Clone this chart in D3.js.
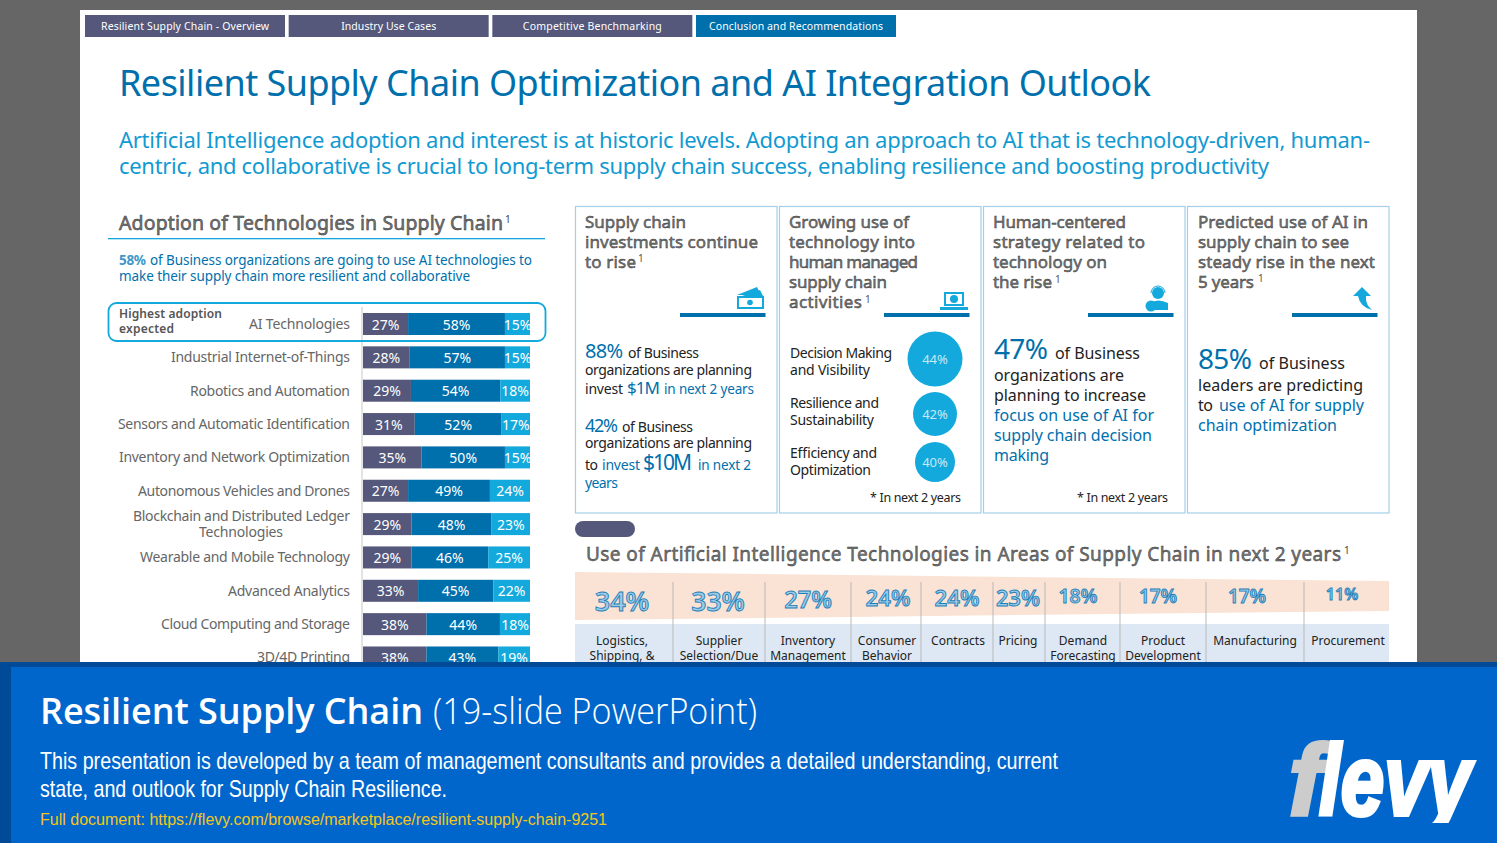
<!DOCTYPE html>
<html><head><meta charset="utf-8">
<script src="https://cdn.jsdelivr.net/npm/d3@7"></script>
<style>html,body{margin:0;padding:0;background:#666;overflow:hidden}svg{display:block}text{font-family:"Noto Sans",sans-serif}</style>
</head><body><svg id="c" width="1497" height="843"></svg>
<script>
const tabNames=["Resilient Supply Chain - Overview","Industry Use Cases","Competitive Benchmarking","Conclusion and Recommendations"];
const techCategories=["AI Technologies","Industrial Internet-of-Things","Robotics and Automation","Sensors and Automatic Identification","Inventory and Network Optimization","Autonomous Vehicles and Drones",["Blockchain and Distributed Ledger","Technologies"],"Wearable and Mobile Technology","Advanced Analytics","Cloud Computing and Storage","3D/4D Printing"];
const adoptionLow=[27,28,29,31,35,27,29,29,33,38,38];
const adoptionMid=[58,57,54,52,50,49,48,46,45,44,43];
const adoptionHigh=[15,15,18,17,15,24,23,25,22,18,19];
const bubbleLabels=[["Decision Making","and Visibility"],["Resilience and","Sustainability"],["Efficiency and","Optimization"]];
const bubbleValues=[44,42,40];
const areaLabels=[["Logistics,","Shipping, &"],["Supplier","Selection/Due"],["Inventory","Management"],["Consumer","Behavior"],["Contracts"],["Pricing"],["Demand","Forecasting"],["Product","Development"],["Manufacturing"],["Procurement"]];
const areaValues=[34,33,27,24,24,23,18,17,17,11];

const svg=d3.select("#c");
const NAVY="#55587a",BLUE="#0070ad",CYAN="#14a9dc",GREY="#666",INK="#222";
function T(x,y,s,o={}){
  const t=svg.append("text").attr("x",x).attr("y",y).text(s)
   .attr("font-size",o.size||14).attr("fill",o.fill||INK).attr("text-anchor",o.anchor||"start");
  if(o.weight)t.attr("font-weight",o.weight);
  if(o.family)t.style("font-family",o.family);
  if(o.len){t.attr("textLength",o.len).attr("lengthAdjust",o.adjust||"spacing");}
  if(o.stroke)t.attr("stroke",o.stroke).attr("stroke-width",o.sw||.4);
  return t;
}
function R(x,y,w,h,f,o={}){return svg.append("rect").attr("x",x).attr("y",y).attr("width",w).attr("height",h).attr("fill",f).attr("rx",o.rx||0)}

// slide
R(80,10,1337,660,"#fff");
// tabs
const tabX=d3.scalePoint().domain(tabNames).range([85,696]);
tabNames.forEach((n,i)=>{
  const x=tabX(n),c=i==3?BLUE:NAVY;
  R(x,15,200,22,c);
  T(x+100,30,n,{size:10.5,fill:"#fff",anchor:"middle",len:[168,95,139,174][i]});
});
T(119,96,"Resilient Supply Chain Optimization and AI Integration Outlook",{size:36,fill:BLUE,len:1032});
T(119,148,"Artificial Intelligence adoption and interest is at historic levels. Adopting an approach to AI that is technology-driven, human-",{size:22,fill:"#119ad2",len:1251});
T(119,174,"centric, and collaborative is crucial to long-term supply chain success, enabling resilience and boosting productivity",{size:22,fill:"#119ad2",len:1150});

// left panel
T(119,230,"Adoption of Technologies in Supply Chain",{size:19.5,fill:"#777",stroke:"#333",sw:.5,len:384});
T(505,223,"1",{size:10,fill:"#444"});
R(108,238,437,1.3,CYAN);
T(119,265,"58%",{size:13.5,fill:"#3f97c9",weight:700,len:27});
T(150,265,"of Business organizations are going to use AI technologies to",{size:13.5,fill:BLUE,len:382});
T(119,281,"make their supply chain more resilient and collaborative",{size:13.5,fill:BLUE,len:351});
R(361,307,2,355,"#e3e3e3");

const rows=techCategories.map((c,i)=>({key:i,low:adoptionLow[i],mid:adoptionMid[i],high:adoptionHigh[i]}));
const stack=d3.stack().keys(["low","mid","high"]).offset(d3.stackOffsetExpand)(rows);
const x=d3.scaleLinear().domain([0,1]).range([363,530]);
const y=d3.scaleBand().domain(d3.range(techCategories.length)).range([313,668.5]).paddingInner(.34).paddingOuter(0);
const color=d3.scaleOrdinal().domain(["low","mid","high"]).range([NAVY,BLUE,CYAN]);
stack.forEach(s=>{
  svg.append("g").selectAll("rect").data(s).join("rect")
   .attr("x",d=>x(d[0])).attr("y",d=>y(d.data.key)).attr("width",d=>x(d[1])-x(d[0])).attr("height",y.bandwidth()).attr("fill",color(s.key));
  svg.append("g").selectAll("text").data(s).join("text")
   .attr("x",d=>(x(d[0])+x(d[1]))/2).attr("y",d=>y(d.data.key)+y.bandwidth()/2+5.5)
   .attr("text-anchor","middle").attr("font-size",14).attr("fill","#fff").text(d=>d.data[s.key]+"%");
});
techCategories.forEach((c,i)=>{
  const cy=y(i)+y.bandwidth()/2;
  if(Array.isArray(c)){
    T(350,cy-3,c[0],{size:14,fill:GREY,anchor:"end",len:217});
    T(241,cy+13,c[1],{size:14,fill:GREY,anchor:"middle",len:84});
  }else T(350,cy+5,c,{size:14,fill:GREY,anchor:"end",len:[101,179,160,232,231,212,0,210,122,189,93][i]});
});
svg.append("rect").attr("x",108.5).attr("y",303).attr("width",437).attr("height",38).attr("rx",8).attr("fill","none").attr("stroke",CYAN).attr("stroke-width",1.8);
T(119,318,"Highest adoption",{size:12,fill:"#555",weight:600,len:103});
T(119,333,"expected",{size:12,fill:"#555",weight:600,len:55});

// cards
[575.5,779.5,983.5,1187.5].forEach(cx=>{
  svg.append("rect").attr("x",cx).attr("y",206.5).attr("width",201.5).attr("height",306.5).attr("fill","#fff").attr("stroke","#a5cfe8").attr("stroke-width",1.2);
});
const HS={size:17,fill:"#777",stroke:"#333",sw:.45};
[[585,228,"Supply chain",101],[585,248,"investments continue",173],[585,268,"to rise",51],
 [789,228,"Growing use of",120],[789,248,"technology into",126],[789,268,"human managed",129],[789,288,"supply chain",98],[789,308,"activities",73],
 [993,228,"Human-centered",133],[993,248,"strategy related to",152],[993,268,"technology on",114],[993,288,"the rise",59],
 [1198,228,"Predicted use of AI in",170],[1198,248,"supply chain to see",151],[1198,268,"steady rise in the next",177],[1198,288,"5 years",56]
].forEach(a=>T(a[0],a[1],a[2],{...HS,len:a[3]}));
[[638,262],[865,303],[1055,283],[1258,282]].forEach(p=>T(p[0],p[1],"1",{size:10,fill:"#555"}));
[680,884,1088,1292].forEach(rx=>R(rx,313,85.5,4,BLUE));

// icons
(function(){
  const g=svg.append("g").attr("fill",CYAN);
  // money
  g.append("path").attr("d","M737 295 L757 287 L760 293 L746 295 Z M742 296 L760 290 L763 296Z");
  g.append("path").attr("fill-rule","evenodd").attr("d","M737 296H764V309H737Z M739 298V307H762V298Z");
  g.append("circle").attr("cx",750).attr("cy",302.5).attr("r",2.8);
  // laptop
  g.append("path").attr("fill-rule","evenodd").attr("d","M944 292H964V306H944Z M946 294V304H962V294Z");
  g.append("path").attr("d","M940 307H968V310H940Z");
  g.append("circle").attr("cx",954).attr("cy",299).attr("r",4);
  // person
  g.append("circle").attr("cx",1158).attr("cy",293).attr("r",6);
  g.append("path").attr("d","M1150 310 V303 Q1158 298 1168 303 V310Z");
  g.append("path").attr("d","M1151 293 A7 7 0 0 1 1165 293").attr("fill","none").attr("stroke",CYAN).attr("stroke-width",1);
  g.append("circle").attr("cx",1151).attr("cy",306).attr("r",5.5);
  // arrow
  g.append("path").attr("d","M1353 296 L1362 287 L1371 296 L1366 296 Q1365 304 1372 310 Q1360 307 1358 296Z");
})();

// card 1
T(585,358,"88%",{size:20,fill:BLUE,len:38});
T(628,358,"of Business",{size:14,len:71});
T(585,375,"organizations are planning",{size:14,len:167});
T(585,394,"invest",{size:14,len:38});
T(627,394,"$1M",{size:17,fill:BLUE,len:33});
T(664,394,"in next 2 years",{size:13.5,fill:BLUE,len:90});
T(585,432,"42%",{size:18,fill:BLUE,len:33});
T(622,432,"of Business",{size:14,len:71});
T(585,448,"organizations are planning",{size:14,len:167});
T(585,470,"to",{size:14,len:13});
T(602,470,"invest",{size:14,fill:BLUE,len:38});
T(643,470,"$10M",{size:21,fill:BLUE,len:49});
T(698,470,"in next 2",{size:13.5,fill:BLUE,len:53});
T(585,488,"years",{size:14,fill:BLUE,len:33});

// card 2 bubbles
const bubbleR=d3.scaleLinear().domain([40,42,44]).range([20,22,27.5]);
const bubbleCY=[359,414,462];
svg.append("g").selectAll("circle").data(bubbleValues).join("circle")
  .attr("cx",935).attr("cy",(d,i)=>bubbleCY[i]).attr("r",d=>bubbleR(d)).attr("fill",CYAN);
svg.append("g").selectAll("text").data(bubbleValues).join("text")
  .attr("x",935).attr("y",(d,i)=>bubbleCY[i]+5).attr("text-anchor","middle").attr("font-size",13).attr("fill","#c8e8f5").text(d=>d+"%");
bubbleLabels.forEach((l,i)=>{
  const by=[358,408,458][i];
  T(790,by,l[0],{size:14,len:[102,89,87][i]});
  T(790,by+17,l[1],{size:14,len:[80,84,81][i]});
});
T(961,502,"* In next 2 years",{size:12.5,anchor:"end",len:91});

// card 3
T(994,359,"47%",{size:28,fill:BLUE,len:54});
T(1055,359,"of Business",{size:16,len:85});
T(994,381,"organizations are",{size:16,len:130});
T(994,401,"planning to increase",{size:16,len:152});
T(994,421,"focus on use of AI for",{size:16,fill:BLUE,len:160});
T(994,441,"supply chain decision",{size:16,fill:BLUE,len:158});
T(994,461,"making",{size:16,fill:BLUE,len:55});
T(1168,502,"* In next 2 years",{size:12.5,anchor:"end",len:91});

// card 4
T(1198,369,"85%",{size:28,fill:BLUE,len:54});
T(1259,369,"of Business",{size:16,len:86});
T(1198,391,"leaders are predicting",{size:16,len:165});
T(1198,411,"to",{size:16,len:15});
T(1219,411,"use of AI for supply",{size:16,fill:BLUE,len:145});
T(1198,431,"chain optimization",{size:16,fill:BLUE,len:139});

// bottom right
R(575,521,60,16,NAVY,{rx:8});
T(586,561,"Use of Artificial Intelligence Technologies in Areas of Supply Chain in next 2 years",{size:19,fill:"#777",stroke:"#333",sw:.45,len:755});
T(1344,554,"1",{size:10,fill:"#444"});
svg.append("path").attr("d","M575 572 L1389 581 L1389 611 L575 620Z").attr("fill","#fae3d5");
R(575,624,814,40,"#dde8f4");
const edges=[575,673,765,851,921,993,1045,1120,1206,1304,1389];
const pctCenters=[622,718,808,888,957,1018,1078,1158,1247,1342];
const labelCenters=[622,719,808,887,958,1018,1083,1163,1255,1348];
const sizeScale=d3.scaleLinear().domain([11,34]).range([16,27]);
const baseScale=d3.scaleLinear().domain([11,34]).range([600,611]);
areaValues.forEach((v,i)=>{
  T(pctCenters[i],baseScale(v),v+"%",{size:sizeScale(v),fill:"#9ccbe6",anchor:"middle",weight:600,stroke:"#1f80ba",sw:.9});
  areaLabels[i].forEach((l,k)=>T(labelCenters[i],645+k*15,l,{size:12,anchor:"middle",fill:"#222"}));
  if(i) svg.append("line").attr("x1",edges[i]).attr("x2",edges[i]).attr("y1",582).attr("y2",664).attr("stroke","#b9b9b9").attr("stroke-width",1);
});

// footer
R(0,662,1497,181,"#0066cc");
R(0,662,1497,5,"#004a97");
R(0,662,11,181,"#004a97");
T(40,724,"Resilient Supply Chain",{size:36,fill:"#fff",weight:600,family:"'Open Sans'",len:383});
T(433,724,"(19-slide PowerPoint)",{size:36,fill:"#fff",weight:300,family:"'Open Sans'",len:324,adjust:"spacingAndGlyphs"});
const LS="'Liberation Sans'";
T(40,769,"This presentation is developed by a team of management consultants and provides a detailed understanding, current",{size:24,fill:"#fff",family:LS,len:1018,adjust:"spacingAndGlyphs"});
T(40,797,"state, and outlook for Supply Chain Resilience.",{size:24,fill:"#fff",family:LS,len:407,adjust:"spacingAndGlyphs"});
T(40,825,"Full document: https://flevy.com/browse/marketplace/resilient-supply-chain-9251",{size:16,fill:"#f5c518",family:LS,len:567});

// logo
const lg=svg.append("g");
lg.append("text").attr("x",1289).attr("y",815).text("f").attr("font-size",100).attr("font-weight",700).attr("font-style","italic").style("font-family",LS).attr("fill","#ccc").attr("stroke","#ccc").attr("stroke-width",4);
lg.append("text").attr("x",1319).attr("y",815).text("levy").attr("font-size",100).attr("font-weight",700).attr("font-style","italic").style("font-family",LS).attr("fill","#fff").attr("stroke","#fff").attr("stroke-width",4).attr("textLength",152).attr("lengthAdjust","spacingAndGlyphs");
R(1280,823,215,20,"#0066cc");
</script></body></html>
